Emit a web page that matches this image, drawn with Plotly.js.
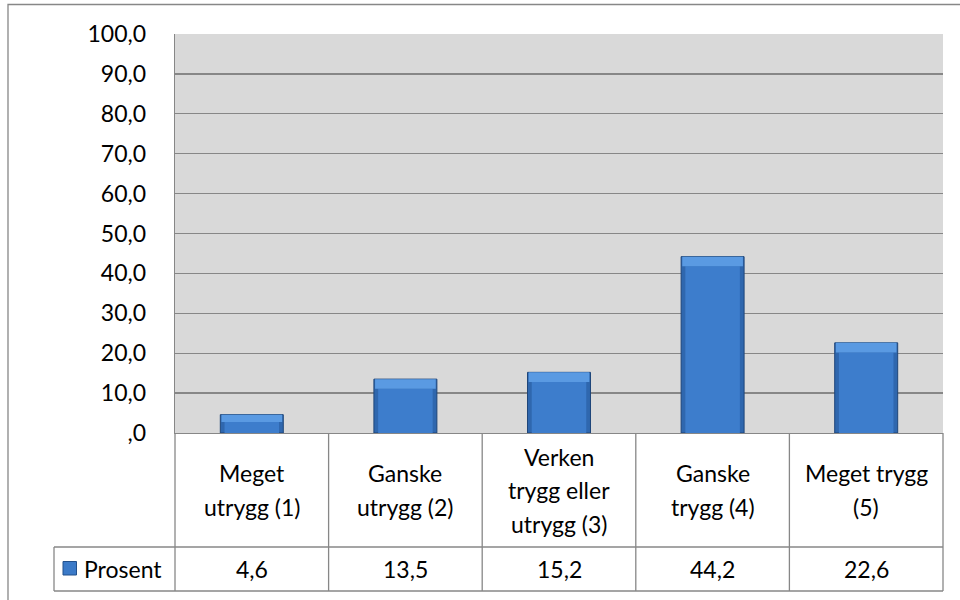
<!DOCTYPE html>
<html>
<head>
<meta charset="utf-8">
<script src="https://cdn.plot.ly/plotly-3.0.1.min.js"></script>
<style>
  html, body { margin: 0; padding: 0; background: #ffffff; }
  #chart { width: 960px; height: 600px; }
</style>
</head>
<body>
<div id="chart"></div>
<script>
// ---- Data ----
const categories = ["Meget utrygg (1)", "Ganske utrygg (2)", "Verken trygg eller utrygg (3)", "Ganske trygg (4)", "Meget trygg (5)"];
const categoryLabels = ["Meget<br>utrygg (1)", "Ganske<br>utrygg (2)", "Verken<br>trygg eller<br>utrygg (3)", "Ganske<br>trygg (4)", "Meget trygg<br>(5)"];
const seriesName = "Prosent";
const prosent = [4.6, 13.5, 15.2, 44.2, 22.6];
const yTickVals = [0, 10, 20, 30, 40, 50, 60, 70, 80, 90, 100];
const yTickText = [",0", "10,0", "20,0", "30,0", "40,0", "50,0", "60,0", "70,0", "80,0", "90,0", "100,0"];

// ---- Layout geometry (pixels) ----
const W = 960, H = 600;
const L = 175, R = 943, T = 34, B = 433;
const PW = R - L, PH = B - T;
const px = p => (p - L) / PW;
const py = p => (B - p) / PH;
const headerBottom = 547, tableBottom = 591, legendLeft = 54;
const lineCol = "#878787";
const FONT = "Lato, 'Noto Sans', sans-serif";
const FS = 23;
const fmt = v => v.toFixed(1).replace(".", ",");

// Bevel approximation: derived from data values
const bevel = prosent.map(v => Math.min(2.4, v * 0.4));

const traces = [
  {
    type: "bar", x: categories, y: prosent, name: seriesName,
    width: 0.41,
    marker: { color: "#2F67AE", line: { color: "#1E4579", width: 1 } },
    hoverinfo: "skip", showlegend: false
  },
  {
    type: "bar", x: categories, y: prosent.map((v, i) => v - bevel[i]),
    width: 0.355,
    marker: { color: "#3D7DCC", line: { width: 0 } },
    hoverinfo: "skip", showlegend: false
  },
  {
    type: "bar", x: categories, y: bevel, base: prosent.map((v, i) => v - bevel[i]),
    width: 0.395,
    marker: { color: "#5A9AE2", line: { width: 0 } },
    hoverinfo: "skip", showlegend: false
  }
];

const shapes = [];
// outer chart border
shapes.push({ type: "rect", xref: "paper", yref: "paper", x0: px(8), x1: px(963), y0: py(4.5), y1: py(603),
  line: { color: lineCol, width: 1.3 }, layer: "above" });
// table verticals
for (let i = 0; i <= categories.length; i++) {
  shapes.push({ type: "line", xref: "paper", yref: "paper", x0: i / categories.length, x1: i / categories.length,
    y0: 0, y1: py(tableBottom), line: { color: lineCol, width: 1.3 } });
}
// legend cell left
shapes.push({ type: "line", xref: "paper", yref: "paper", x0: px(legendLeft), x1: px(legendLeft),
  y0: py(headerBottom), y1: py(tableBottom), line: { color: lineCol, width: 1.3 } });
// table horizontals
[headerBottom, tableBottom].forEach(yy => {
  shapes.push({ type: "line", xref: "paper", yref: "paper", x0: px(legendLeft), x1: 1,
    y0: py(yy), y1: py(yy), line: { color: lineCol, width: 1.3 } });
});
// legend key
const rowMid = (headerBottom + tableBottom) / 2;
shapes.push({ type: "rect", xref: "paper", yref: "paper", x0: px(63), x1: px(76.5), y0: py(rowMid - 7.5), y1: py(rowMid + 6),
  fillcolor: "#3B7AC8", line: { color: "#22508C", width: 1 } });

const annotations = [];
const headerCenter = (B + headerBottom) / 2;
const lineGap = 33.5;
categoryLabels.forEach((lab, i) => {
  const lines = lab.split("<br>");
  lines.forEach((ln, j) => {
    const yc = headerCenter + (j - (lines.length - 1) / 2) * lineGap;
    annotations.push({ x: categories[i], xref: "x", y: py(yc), yref: "paper", text: ln, showarrow: false,
      xanchor: "center", yanchor: "middle", font: { family: FONT, size: FS, color: "#000" } });
  });
});
prosent.forEach((v, i) => {
  annotations.push({ x: categories[i], xref: "x", y: py(rowMid), yref: "paper",
    text: fmt(v), showarrow: false, xanchor: "center", yanchor: "middle",
    font: { family: FONT, size: FS, color: "#000" } });
});
annotations.push({ x: px(82), xref: "paper", y: py(rowMid), yref: "paper", text: seriesName, showarrow: false,
  xanchor: "left", yanchor: "middle", font: { family: FONT, size: FS, color: "#000" } });

const layout = {
  width: W, height: H,
  margin: { l: L, r: W - R, t: T, b: H - B, pad: 0 },
  paper_bgcolor: "#ffffff",
  plot_bgcolor: "#D9D9D9",
  barmode: "overlay",
  font: { family: FONT, size: FS, color: "#000" },
  showlegend: false,
  xaxis: {
    type: "category", range: [-0.5, 4.5], showticklabels: false, showgrid: false, zeroline: false,
    showline: true, linecolor: lineCol, linewidth: 1.3, ticks: "", fixedrange: true
  },
  yaxis: {
    range: [0, 100], tickvals: yTickVals, ticktext: yTickText, showgrid: true, gridcolor: lineCol, gridwidth: 1.3,
    zeroline: false, showline: true, linecolor: lineCol, linewidth: 1.3, ticks: "", ticklabelstandoff: 23,
    tickfont: { family: FONT, size: FS, color: "#000" }, fixedrange: true
  },
  shapes: shapes,
  annotations: annotations
};

Plotly.newPlot("chart", traces, layout, { displayModeBar: false, staticPlot: true });
</script>
</body>
</html>
